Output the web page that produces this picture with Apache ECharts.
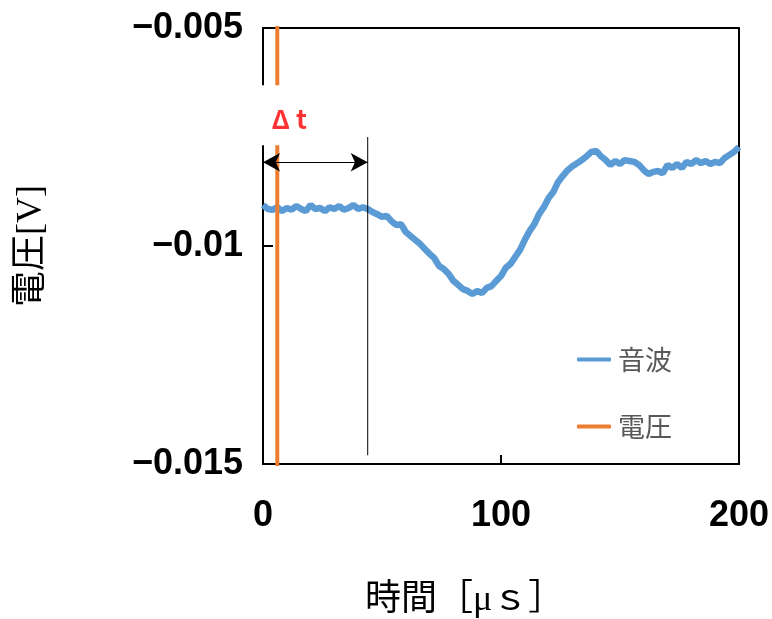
<!DOCTYPE html>
<html>
<head>
<meta charset="utf-8">
<script src="https://cdn.jsdelivr.net/npm/echarts@6/dist/echarts.min.js"></script>
<style>html,body{margin:0;padding:0;background:#fff;}#c{width:772px;height:619px;}</style>
</head>
<body>
<div id="c"></div>
<script>
// time axis (µs)
const timeUs = [0,2,4,6,8,10,12,14,16,18,20,22,24,26,28,30,32,34,36,38,40,42,44,46,48,50,52,54,56,58,60,62,64,66,68,70,72,74,76,78,80,82,84,86,88,90,92,94,96,98,100,102,104,106,108,110,112,114,116,118,120,122,124,126,128,130,132,134,136,138,140,142,144,146,148,150,152,154,156,158,160,162,164,166,168,170,172,174,176,178,180,182,184,186,188,190,192,194,196,198,200];
// 音波 (V)
const soundWave = [-0.00906,-0.00915,-0.00917,-0.00911,-0.00920,-0.00913,-0.00917,-0.00908,-0.00915,-0.00920,-0.00906,-0.00915,-0.00913,-0.00920,-0.00911,-0.00915,-0.00908,-0.00917,-0.00913,-0.00906,-0.00915,-0.00911,-0.00915,-0.00922,-0.00927,-0.00933,-0.00931,-0.00943,-0.00952,-0.00950,-0.00968,-0.00977,-0.00986,-0.00995,-0.01007,-0.01018,-0.01028,-0.01046,-0.01053,-0.01064,-0.01080,-0.01089,-0.01099,-0.01103,-0.01110,-0.01103,-0.01108,-0.01096,-0.01092,-0.01080,-0.01069,-0.01050,-0.01041,-0.01025,-0.01009,-0.00986,-0.00966,-0.00950,-0.00927,-0.00911,-0.00890,-0.00876,-0.00853,-0.00839,-0.00826,-0.00817,-0.00810,-0.00803,-0.00794,-0.00784,-0.00782,-0.00794,-0.00803,-0.00814,-0.00805,-0.00812,-0.00803,-0.00805,-0.00807,-0.00814,-0.00826,-0.00835,-0.00830,-0.00828,-0.00833,-0.00814,-0.00821,-0.00812,-0.00821,-0.00807,-0.00812,-0.00803,-0.00810,-0.00805,-0.00812,-0.00807,-0.00810,-0.00798,-0.00791,-0.00784,-0.00773];
// 電圧 (vertical spike, extends beyond the view)
const voltageT = [6, 6];
const voltageV = [-0.004, -0.016];
// Δt cursor
const cursorT = [44, 44];
const cursorV = [-0.0075, -0.0148];
const arrowStartT = 0;
const arrowV = -0.00808;
const dtLabelPos = [11, -0.0071];
const dtMaskPos = [9.2, -0.007];
// tick labels
const xTickLabels = ['0', '100', '200'];
const yTickLabels = ['\u22120.015', '\u22120.01', '\u22120.005'];

const chart = echarts.init(document.getElementById('c'));
const labelFont = {fontFamily: 'Liberation Sans, Arial, sans-serif', fontWeight: 'bold', fontSize: 36, color: '#000'};
const frameAxis = {
  type: 'value', axisLine: {show: true, onZero: false, lineStyle: {color: '#000', width: 2}},
  axisTick: {show: false}, axisLabel: {show: false}, splitLine: {show: false}
};
chart.setOption({
  animation: false,
  backgroundColor: '#fff',
  title: {
    text: '時間［μｓ］', left: 360, top: 578,
    textStyle: {fontSize: 36, fontWeight: 'normal', color: '#000', fontFamily: 'Liberation Serif, Noto Sans CJK JP, serif'}
  },
  grid: {left: 263, top: 28, width: 476, height: 436},
  legend: {
    data: [{name: '音波', icon: 'roundRect'}, {name: '電圧', icon: 'roundRect'}],
    orient: 'vertical', left: 572, top: 341, itemGap: 40,
    itemWidth: 34, itemHeight: 4,
    textStyle: {fontSize: 27, color: '#595959', fontFamily: 'Noto Sans CJK JP, sans-serif', padding: [0, 0, 0, 2]}
  },
  xAxis: [{
    type: 'value', min: 0, max: 200, interval: 100,
    axisLine: {onZero: false, lineStyle: {color: '#000', width: 2}},
    axisTick: {inside: true, length: 9, lineStyle: {color: '#000', width: 2}},
    splitLine: {show: false},
    axisLabel: Object.assign({margin: 34, formatter: (v, i) => xTickLabels[i]}, labelFont)
  }, Object.assign({position: 'top', min: 0, max: 200}, frameAxis)],
  yAxis: [{
    type: 'value', min: -0.015, max: -0.005, interval: 0.005,
    name: '電圧[V]', nameLocation: 'middle', nameRotate: 90, nameGap: 213,
    nameTextStyle: {fontSize: 36, color: '#000', fontFamily: 'Liberation Serif, Noto Sans CJK JP, serif'},
    axisLine: {onZero: false, lineStyle: {color: '#000', width: 2}},
    axisTick: {inside: true, length: 10, lineStyle: {color: '#000', width: 2}},
    splitLine: {show: false},
    axisLabel: Object.assign({margin: 20, formatter: (v, i) => yTickLabels[i]}, labelFont)
  }, Object.assign({position: 'right', min: -0.015, max: -0.005}, frameAxis)],
  series: [
    {
      name: '音波', type: 'line', symbol: 'none', z: 3,
      lineStyle: {color: '#5B9BD5', width: 6.5}, itemStyle: {color: '#5B9BD5'},
      data: timeUs.map((t, i) => [t, soundWave[i]])
    },
    {
      name: '電圧', type: 'line', symbol: 'none', z: 3, clip: true,
      lineStyle: {color: '#ED7D31', width: 4}, itemStyle: {color: '#ED7D31'},
      data: voltageT.map((t, i) => [t, voltageV[i]])
    },
    {
      name: 'cursor', type: 'line', symbol: 'none', z: 4,
      lineStyle: {color: '#000', width: 1}, itemStyle: {color: '#000'},
      data: cursorT.map((t, i) => [t, cursorV[i]]),
      markLine: {
        silent: true, symbol: ['arrow', 'arrow'], symbolSize: [14, 17],
        lineStyle: {color: '#000', width: 1, type: 'solid'},
        itemStyle: {color: '#000'},
        label: {show: false},
        data: [[{coord: [arrowStartT, arrowV]}, {coord: [cursorT[0], arrowV]}]]
      }
    },
    {
      name: 'mask', type: 'scatter', z: 6, clip: false, silent: true,
      symbol: 'rect', symbolSize: [56, 60],
      itemStyle: {color: '#fff', opacity: 1},
      data: [dtMaskPos]
    },
    {
      name: 'dt', type: 'scatter', z: 7, clip: false, silent: true,
      symbolSize: 1, itemStyle: {color: 'rgba(0,0,0,0)'},
      label: {show: true, position: 'inside', formatter: 'Δ t', color: '#ff0000', fontSize: 26, fontWeight: 'bold', fontFamily: 'Noto Sans CJK JP, sans-serif'},
      data: [dtLabelPos]
    }
  ]
});
</script>
</body>
</html>
